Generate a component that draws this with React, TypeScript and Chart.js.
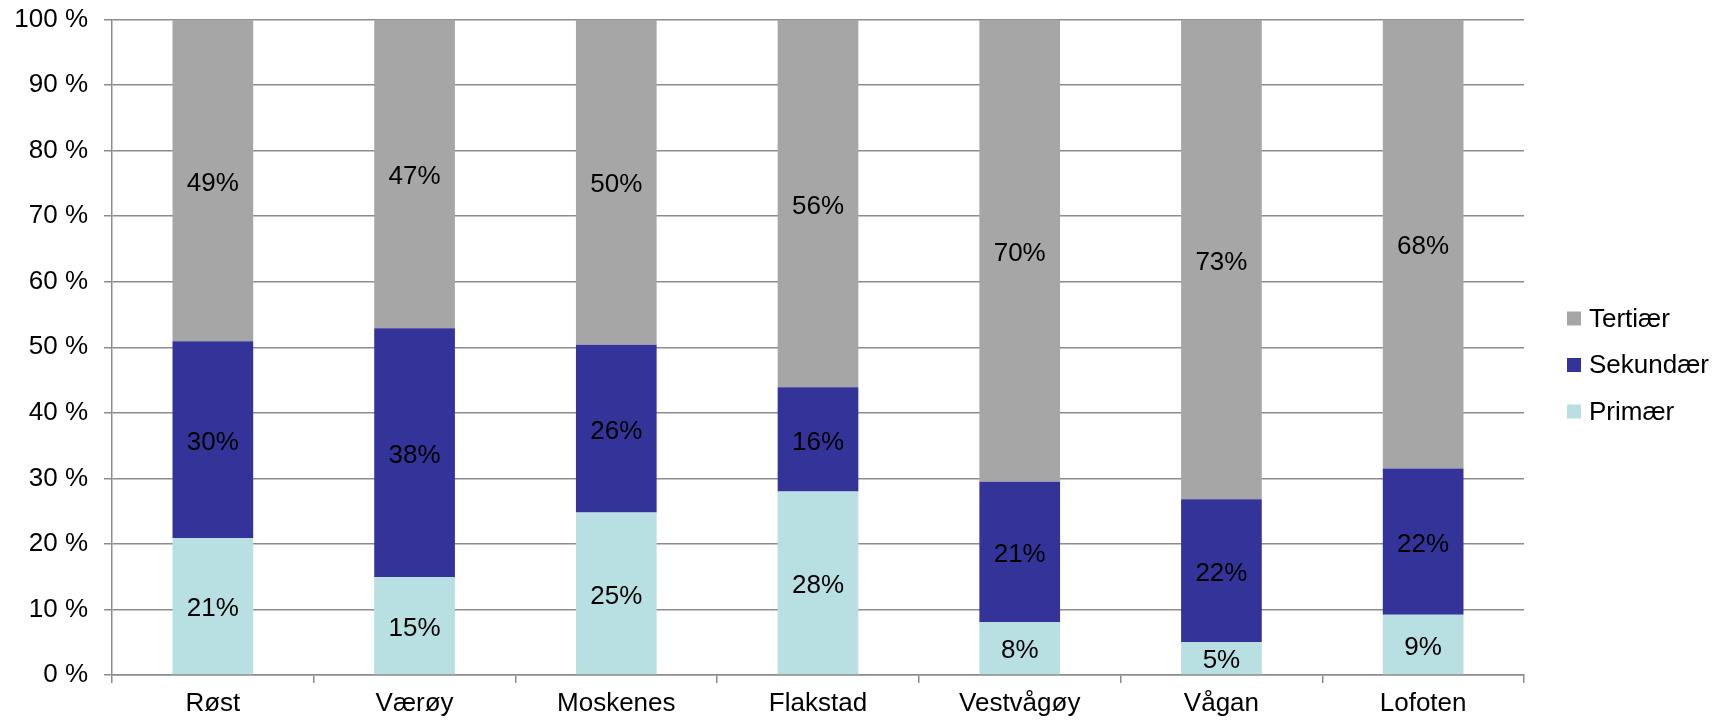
import React, { useEffect, useRef } from "react";
import { Chart, registerables } from "chart.js";

Chart.register(...registerables);

const categories = ["Røst", "Værøy", "Moskenes", "Flakstad", "Vestvågøy", "Vågan", "Lofoten"];
const primaer = [20.9, 14.9, 24.8, 28.0, 8.1, 5.0, 9.2];
const sekundaer = [30.0, 38.0, 25.6, 15.9, 21.4, 21.8, 22.3];
const tertiaer = [49.1, 47.1, 49.6, 56.1, 70.49, 73.2, 68.49];
const yTicks = [0, 10, 20, 30, 40, 50, 60, 70, 80, 90, 100];

const FONT = "'Liberation Sans', Arial, Helvetica, sans-serif";
const FS = 26;

const dataLabelPlugin = {
  id: "segLabels",
  afterDatasetsDraw(chart: any) {
    const ctx = chart.ctx;
    ctx.save();
    ctx.font = `${FS}px ${FONT}`;
    ctx.fillStyle = "#000";
    ctx.textAlign = "center";
    ctx.textBaseline = "middle";
    chart.data.datasets.forEach((ds: any, di: number) => {
      const meta = chart.getDatasetMeta(di);
      meta.data.forEach((el: any, i: number) => {
        const v = ds.data[i];
        const yc = (el.y + el.base) / 2 + 3;
        ctx.fillText(Math.round(v) + "%", el.x, yc);
      });
    });
    ctx.restore();
  },
};

const legendPlugin = {
  id: "customLegend",
  afterDraw(chart: any) {
    const ctx = chart.ctx;
    const area = chart.chartArea;
    ctx.save();
    ctx.font = `${FS}px ${FONT}`;
    ctx.textBaseline = "middle";
    ctx.textAlign = "left";
    const items = [...chart.data.datasets].reverse();
    const x0 = area.right + 43;
    const cy = 357;
    const gap = 46.5;
    items.forEach((ds: any, i: number) => {
      const y = cy + (i - 1) * gap;
      ctx.fillStyle = ds.backgroundColor;
      ctx.fillRect(x0, y - 7, 14, 14);
      ctx.fillStyle = "#000";
      ctx.fillText(ds.label, x0 + 22, y + 1);
    });
    ctx.restore();
  },
};

export default function App() {
  const ref = useRef<HTMLCanvasElement>(null);
  useEffect(() => {
    if (!ref.current) return;
    const chart = new Chart(ref.current, {
      type: "bar",
      data: {
        labels: categories,
        datasets: [
          { label: "Primær", data: primaer, backgroundColor: "#b8dfe2" },
          { label: "Sekundær", data: sekundaer, backgroundColor: "#333399" },
          { label: "Tertiær", data: tertiaer, backgroundColor: "#a6a6a6" },
        ],
      },
      options: {
        responsive: false,
        animation: false,
        layout: { padding: { top: 11.5, right: 189, left: 0, bottom: 0 } },
        datasets: { bar: { categoryPercentage: 1, barPercentage: 0.4 } },
        plugins: { legend: { display: false }, tooltip: { enabled: false } },
        scales: {
          x: {
            stacked: true,
            afterFit: (a: any) => { a.height = 48; a.paddingLeft = 0; a.paddingRight = 0; },
            grid: {
              offset: true,
              drawOnChartArea: false,
              drawTicks: true,
              tickLength: 8,
              color: "#8c8c8c",
              lineWidth: 1.5,
            },
            border: { color: "#8c8c8c", width: 1.5 },
            ticks: { color: "#000", font: { family: FONT, size: FS }, padding: 5, maxRotation: 0, autoSkip: false },
          },
          y: {
            stacked: true,
            min: 0,
            max: 100,
            afterFit: (a: any) => { a.width = 104; a.paddingTop = 0; a.paddingBottom = 0; },
            afterBuildTicks: (a: any) => { a.ticks = yTicks.map((v) => ({ value: v })); },
            grid: { color: "#8c8c8c", lineWidth: 1.5, tickLength: 8, drawTicks: true },
            border: { color: "#8c8c8c", width: 1.5 },
            ticks: {
              color: "#000",
              font: { family: FONT, size: FS },
              padding: 16,
              callback: (v: any) => v + " %",
            },
          },
        },
      },
      plugins: [dataLabelPlugin, legendPlugin],
    });
    return () => chart.destroy();
  }, []);
  return (
    <div>
      <canvas ref={ref} width={1705} height={715} style={{ display: "block" }} />
    </div>
  );
}
